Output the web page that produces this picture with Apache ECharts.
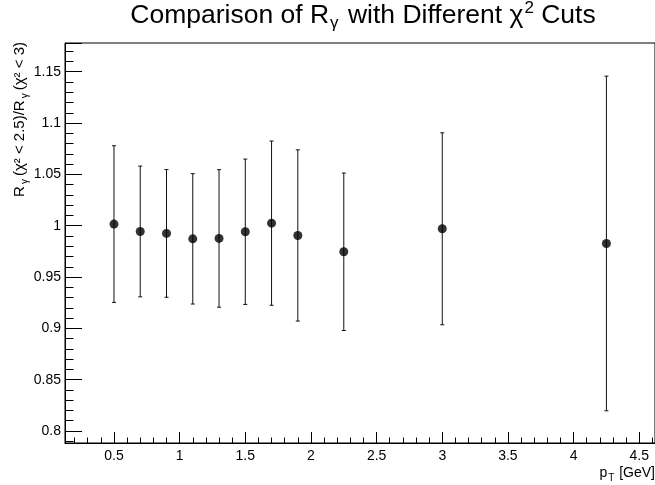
<!DOCTYPE html>
<html>
<head>
<meta charset="utf-8">
<script src="https://cdn.jsdelivr.net/npm/echarts@6/dist/echarts.min.js"></script>
<style>html,body{margin:0;padding:0;background:#fff;}#c{width:655px;height:485px;}</style>
</head>
<body>
<div id="c"></div>
<script>
// pT bin centres [GeV]
var pt = [0.5, 0.7, 0.9, 1.1, 1.3, 1.5, 1.7, 1.9, 2.25, 3.0, 4.25];
// ratio R_gamma(chi2<2.5)/R_gamma(chi2<3)
var ratio = [1.0016, 0.9944, 0.9925, 0.9872, 0.9876, 0.9941, 1.0025, 0.9905, 0.9746, 0.9970, 0.9827];
// symmetric errors
var err = [0.0763, 0.0637, 0.0622, 0.0635, 0.0670, 0.0708, 0.0800, 0.0834, 0.0767, 0.0935, 0.1630];
var xRange = [0.127, 4.62];
var yRange = [0.7883, 1.178];

var FONT = 'Liberation Sans, Arial, sans-serif';
var chart = echarts.init(document.getElementById('c'), null, {renderer: 'canvas'});

var points = pt.map(function (x, i) { return [x, ratio[i]]; });
var bars = pt.map(function (x, i) { return [x, ratio[i], err[i]]; });

function ts(size, pad) {
  var o = {fontSize: size, fontFamily: FONT, color: '#000', fontWeight: 'normal'};
  if (pad) o.padding = pad;
  return o;
}

var option = {
  animation: false,
  backgroundColor: '#fff',
  title: {
    text: '{a|Comparison of R}{s|γ}{a| with Different χ}{p|2}{a| Cuts}',
    left: 358,
    textAlign: 'center',
    top: -6,
    textStyle: {
      rich: {
        a: ts(26.5),
        s: ts(17, [16, 2, 0, 1]),
        p: ts(17, [0, 0, 14, 1])
      }
    }
  },
  grid: {
    left: 65, top: 43, width: 591, height: 400,
    show: true, borderColor: '#000', borderWidth: 1, containLabel: false
  },
  xAxis: {
    type: 'value',
    min: xRange[0], max: xRange[1],
    splitNumber: 9, minInterval: 0.5, maxInterval: 0.5,
    axisLine: {show: true, lineStyle: {color: '#000', width: 1}},
    axisTick: {show: true, inside: true, length: 11, lineStyle: {color: '#000'}},
    minorTick: {show: true, splitNumber: 5, length: 5.5, lineStyle: {color: '#000'}},
    splitLine: {show: false},
    axisLabel: {color: '#000', fontSize: 14, fontFamily: FONT, margin: 6, showMinLabel: false, showMaxLabel: false}
  },
  yAxis: {
    type: 'value',
    min: yRange[0], max: yRange[1],
    splitNumber: 8, minInterval: 0.05, maxInterval: 0.05,
    axisLine: {show: true, lineStyle: {color: '#000', width: 1}},
    axisTick: {show: true, inside: true, length: 17, lineStyle: {color: '#000'}},
    minorTick: {show: true, splitNumber: 5, length: 8.5, lineStyle: {color: '#000'}},
    splitLine: {show: false},
    axisLabel: {color: '#000', fontSize: 14, fontFamily: FONT, margin: 4, showMinLabel: false, showMaxLabel: false}
  },
  graphic: [
    {
      type: 'text', x: 20, y: 42, rotation: Math.PI / 2,
      style: {
        text: '{a|R}{s|γ}{a|(χ² < 2.5)/R}{s|γ}{a|(χ² < 3)}',
        align: 'right', verticalAlign: 'middle',
        rich: {
          a: {fontSize: 15, fontFamily: FONT, fill: '#000'},
          s: {fontSize: 10, fontFamily: FONT, fill: '#000', padding: [10, 3, 0, 2]}
        }
      }
    },
    {
      type: 'text', x: 655, y: 473,
      style: {
        text: '{a|p}{s|T}{a| [GeV]}',
        align: 'right', verticalAlign: 'middle',
        rich: {
          a: {fontSize: 14, fontFamily: FONT, fill: '#000'},
          s: {fontSize: 10, fontFamily: FONT, fill: '#000', padding: [10, 1, 0, 1]}
        }
      }
    }
  ],
  series: [
    {
      type: 'custom',
      data: bars,
      renderItem: function (params, api) {
        var x = api.value(0), y = api.value(1), e = api.value(2);
        var hi = api.coord([x, y + e]);
        var lo = api.coord([x, y - e]);
        var cw = 2;
        var ls = {stroke: '#111', lineWidth: 1};
        return {
          type: 'group',
          children: [
            {type: 'line', shape: {x1: hi[0], y1: hi[1], x2: lo[0], y2: lo[1]}, style: ls},
            {type: 'line', shape: {x1: hi[0] - cw, y1: hi[1], x2: hi[0] + cw, y2: hi[1]}, style: ls},
            {type: 'line', shape: {x1: lo[0] - cw, y1: lo[1], x2: lo[0] + cw, y2: lo[1]}, style: ls}
          ]
        };
      },
      z: 2
    },
    {
      type: 'scatter',
      data: points,
      symbol: 'circle',
      symbolSize: 9,
      itemStyle: {color: '#000'},
      z: 3
    }
  ]
};
chart.setOption(option);
</script>
</body>
</html>
